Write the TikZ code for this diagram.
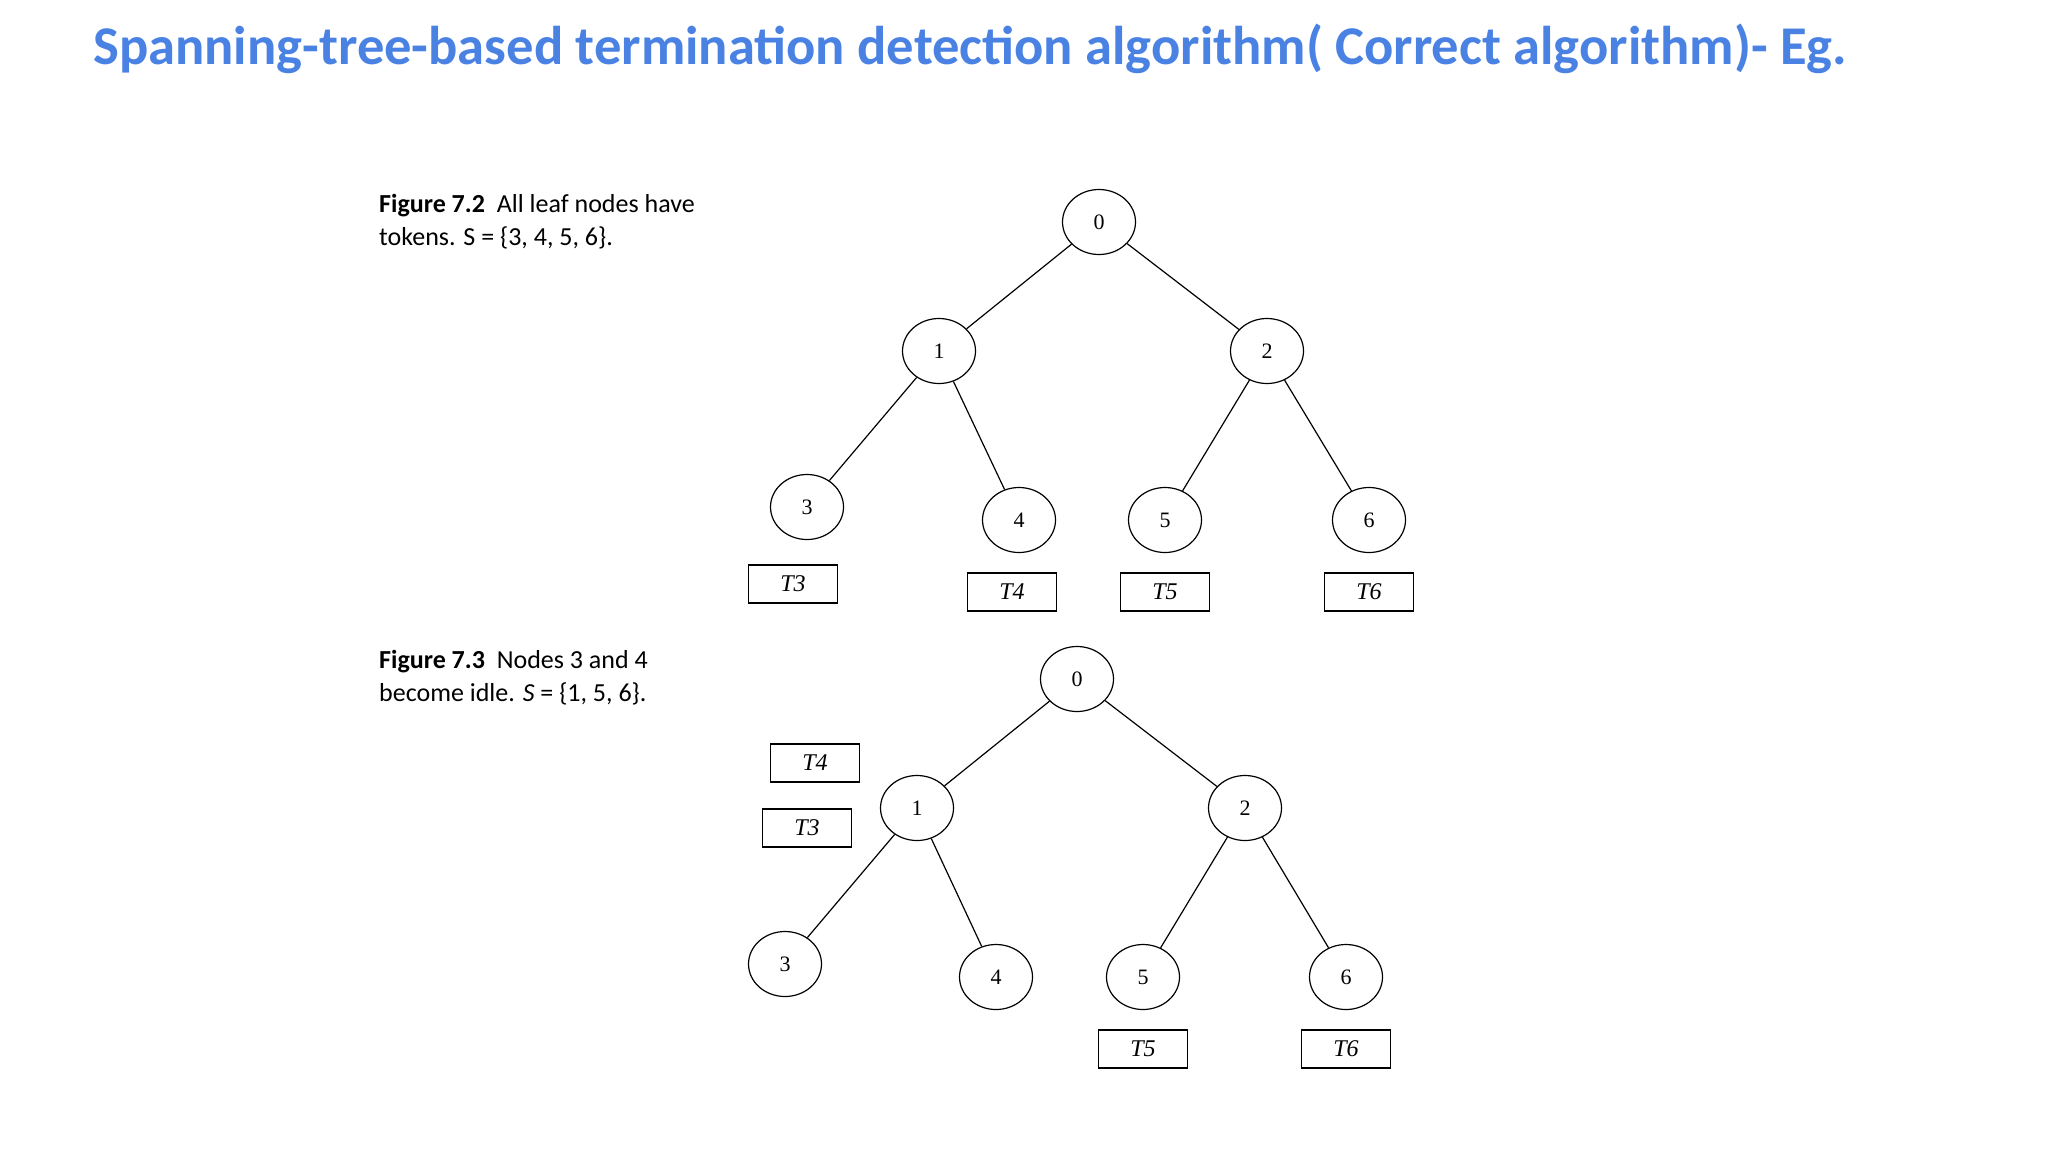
\documentclass[tikz,border=0pt]{standalone}
\usepackage{fontspec}
\setmainfont{Liberation Serif}
\newfontfamily\capfont{Carlito}
\usetikzlibrary{shapes.geometric}
\definecolor{titleblue}{RGB}{74,130,228}
\begin{document}
\begin{tikzpicture}[x=1pt,y=-1pt,
  tnode/.style={draw,ellipse,minimum width=73pt,minimum height=65pt,inner sep=0pt,line width=1.2pt,font=\fontsize{22}{22}\selectfont},
  tok/.style={draw,rectangle,minimum width=89pt,minimum height=38pt,inner sep=0pt,line width=1.2pt,font=\fontsize{24}{24}\selectfont\itshape},
  edge/.style={line width=1.2pt},
  captext/.style={anchor=base west,align=left,inner sep=0pt,font=\capfont\fontsize{26}{33}\selectfont}
]
\useasboundingbox (0,0) rectangle (2048,1152);
\fill[white] (0,0) rectangle (2048,1152);
\node[anchor=base west,inner sep=0pt,text=titleblue,font=\capfont\bfseries\fontsize{54.6}{55}\selectfont] (title) at (93,64) {Spanning-tree-based termination detection algorithm( Correct algorithm)- Eg.};

% Figure 7.2
\node[captext] (cap1) at (379,245) {\textbf{Figure 7.2}\ \ All leaf nodes have\\tokens. S = \{3, 4, 5, 6\}.};
\node[tnode] (a0) at (1099,222) {0};
\node[tnode] (a1) at (939,351) {1};
\node[tnode] (a2) at (1267,351) {2};
\node[tnode] (a3) at (807,507) {3};
\node[tnode] (a4) at (1019,520) {4};
\node[tnode] (a5) at (1165,520) {5};
\node[tnode] (a6) at (1369,520) {6};
\draw[edge] (a0) -- (a1);
\draw[edge] (a0) -- (a2);
\draw[edge] (a1) -- (a3);
\draw[edge] (a1) -- (a4);
\draw[edge] (a2) -- (a5);
\draw[edge] (a2) -- (a6);
\node[tok] (at3) at (793,584) {T3};
\node[tok] (at4) at (1012,592) {T4};
\node[tok] (at5) at (1165,592) {T5};
\node[tok] (at6) at (1369,592) {T6};

% Figure 7.3
\node[captext] (cap2) at (379,701) {\textbf{Figure 7.3}\ \ Nodes 3 and 4\\become idle. \textit{S} = \{1, 5, 6\}.};
\node[tnode] (b0) at (1077,679) {0};
\node[tnode] (b1) at (917,808) {1};
\node[tnode] (b2) at (1245,808) {2};
\node[tnode] (b3) at (785,964) {3};
\node[tnode] (b4) at (996,977) {4};
\node[tnode] (b5) at (1143,977) {5};
\node[tnode] (b6) at (1346,977) {6};
\draw[edge] (b0) -- (b1);
\draw[edge] (b0) -- (b2);
\draw[edge] (b1) -- (b3);
\draw[edge] (b1) -- (b4);
\draw[edge] (b2) -- (b5);
\draw[edge] (b2) -- (b6);
\node[tok] (bt4) at (815,763) {T4};
\node[tok] (bt3) at (807,828) {T3};
\node[tok] (bt5) at (1143,1049) {T5};
\node[tok] (bt6) at (1346,1049) {T6};
\end{tikzpicture}
\end{document}
